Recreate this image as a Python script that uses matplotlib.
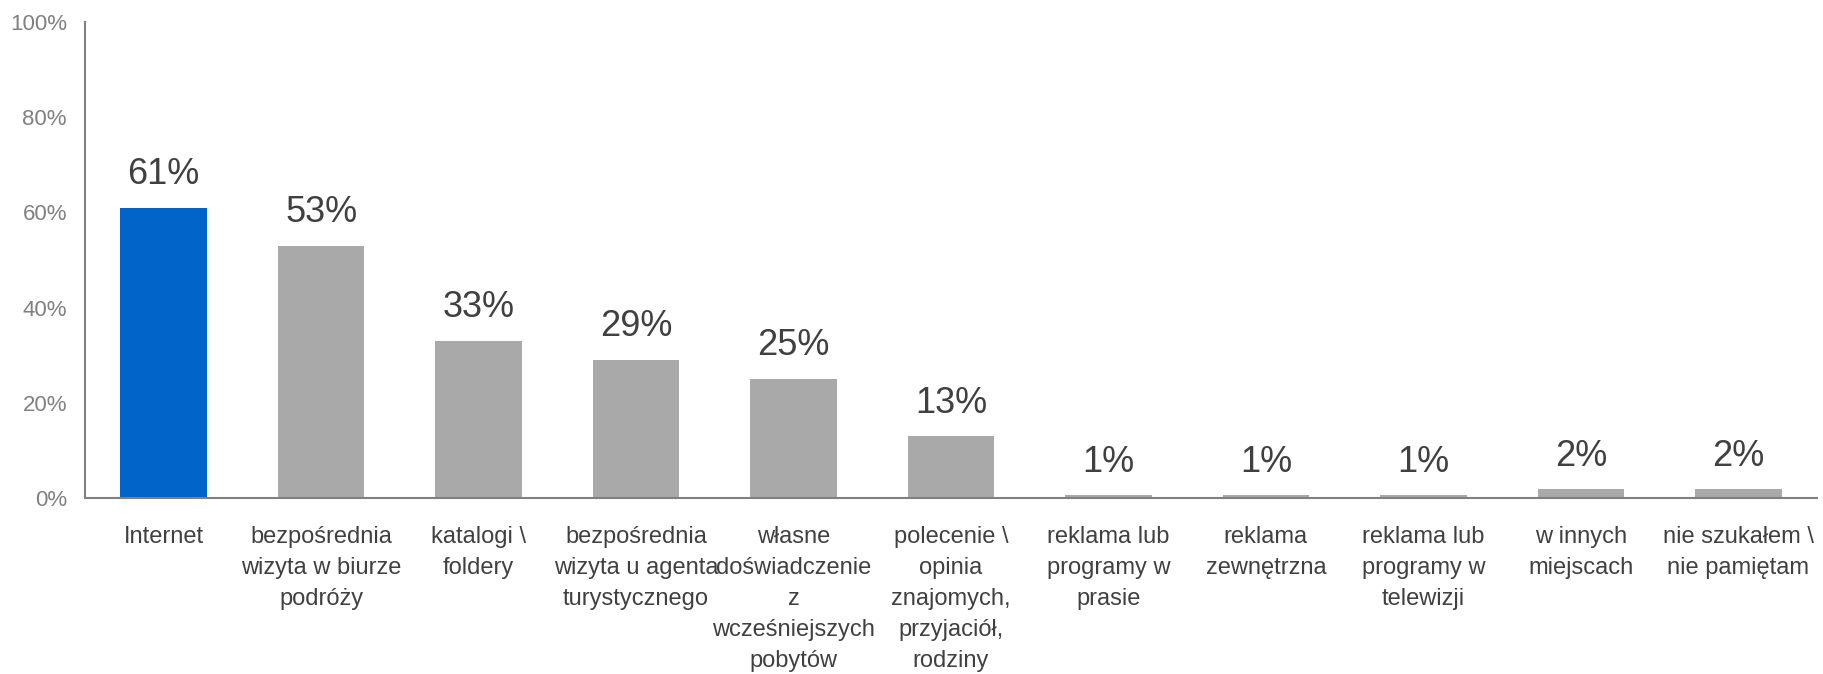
import matplotlib
matplotlib.use("Agg")
import matplotlib.pyplot as plt
from matplotlib.ticker import FuncFormatter


# =========================================================
# DATA
# =========================================================
categories = [
    "Internet",
    "bezpośrednia\nwizyta w biurze\npodróży",
    "katalogi \\\nfoldery",
    "bezpośrednia\nwizyta u agenta\nturystycznego",
    "własne\ndoświadczenie\nz\nwcześniejszych\npobytów",
    "polecenie \\\nopinia\nznajomych,\nprzyjaciół,\nrodziny",
    "reklama lub\nprogramy w\nprasie",
    "reklama\nzewnętrzna",
    "reklama lub\nprogramy w\ntelewizji",
    "w innych\nmiejscach",
    "nie szukałem \\\nnie pamiętam",
]
values = [61, 53, 33, 29, 25, 13, 0.6, 0.6, 0.6, 1.8, 1.8]
highlight = "Internet"

yticks = [0, 20, 40, 60, 80, 100]


# =========================================================
# STYLE
# =========================================================
BLUE = "#0064C8"
GREY_BAR = "#A9A9A9"
AXIS_GREY = "#808080"
TEXT_DARK = "#404040"

plt.rcParams["font.family"] = ["Liberation Sans", "DejaVu Sans"]


# =========================================================
# PLOT
# =========================================================
fig = plt.figure(figsize=(18.24, 6.74), dpi=100)
ax = fig.add_axes([85 / 1824, 1 - 498 / 674, (1817 - 85) / 1824, (498 - 22) / 674])

x = list(range(len(categories)))
colors = [BLUE if c == highlight else GREY_BAR for c in categories]
bars = ax.bar(x, values, width=0.55, color=colors, zorder=2)

for b, v in zip(bars, values):
    ax.annotate(
        f"{v:.0f}%",
        xy=(b.get_x() + b.get_width() / 2, b.get_height()),
        xytext=(0, 17),
        textcoords="offset points",
        ha="center",
        va="baseline",
        fontsize=26,
        color=TEXT_DARK,
    )

ax.set_xlim(-0.5, len(categories) - 0.5)
ax.set_ylim(0, 100)
ax.set_yticks(yticks)
ax.yaxis.set_major_formatter(FuncFormatter(lambda v, p: f"{v:.0f}%"))

ax.set_xticks(x)
ax.set_xticklabels(categories, fontsize=17, color=TEXT_DARK, linespacing=1.54)

ax.tick_params(axis="y", length=0, pad=13, labelsize=16, labelcolor=AXIS_GREY)
ax.tick_params(axis="x", length=0, pad=20)

for side in ["top", "right"]:
    ax.spines[side].set_visible(False)
for side in ["left", "bottom"]:
    ax.spines[side].set_color(AXIS_GREY)
    ax.spines[side].set_linewidth(1.5)

fig.savefig("out.png", dpi=100)
